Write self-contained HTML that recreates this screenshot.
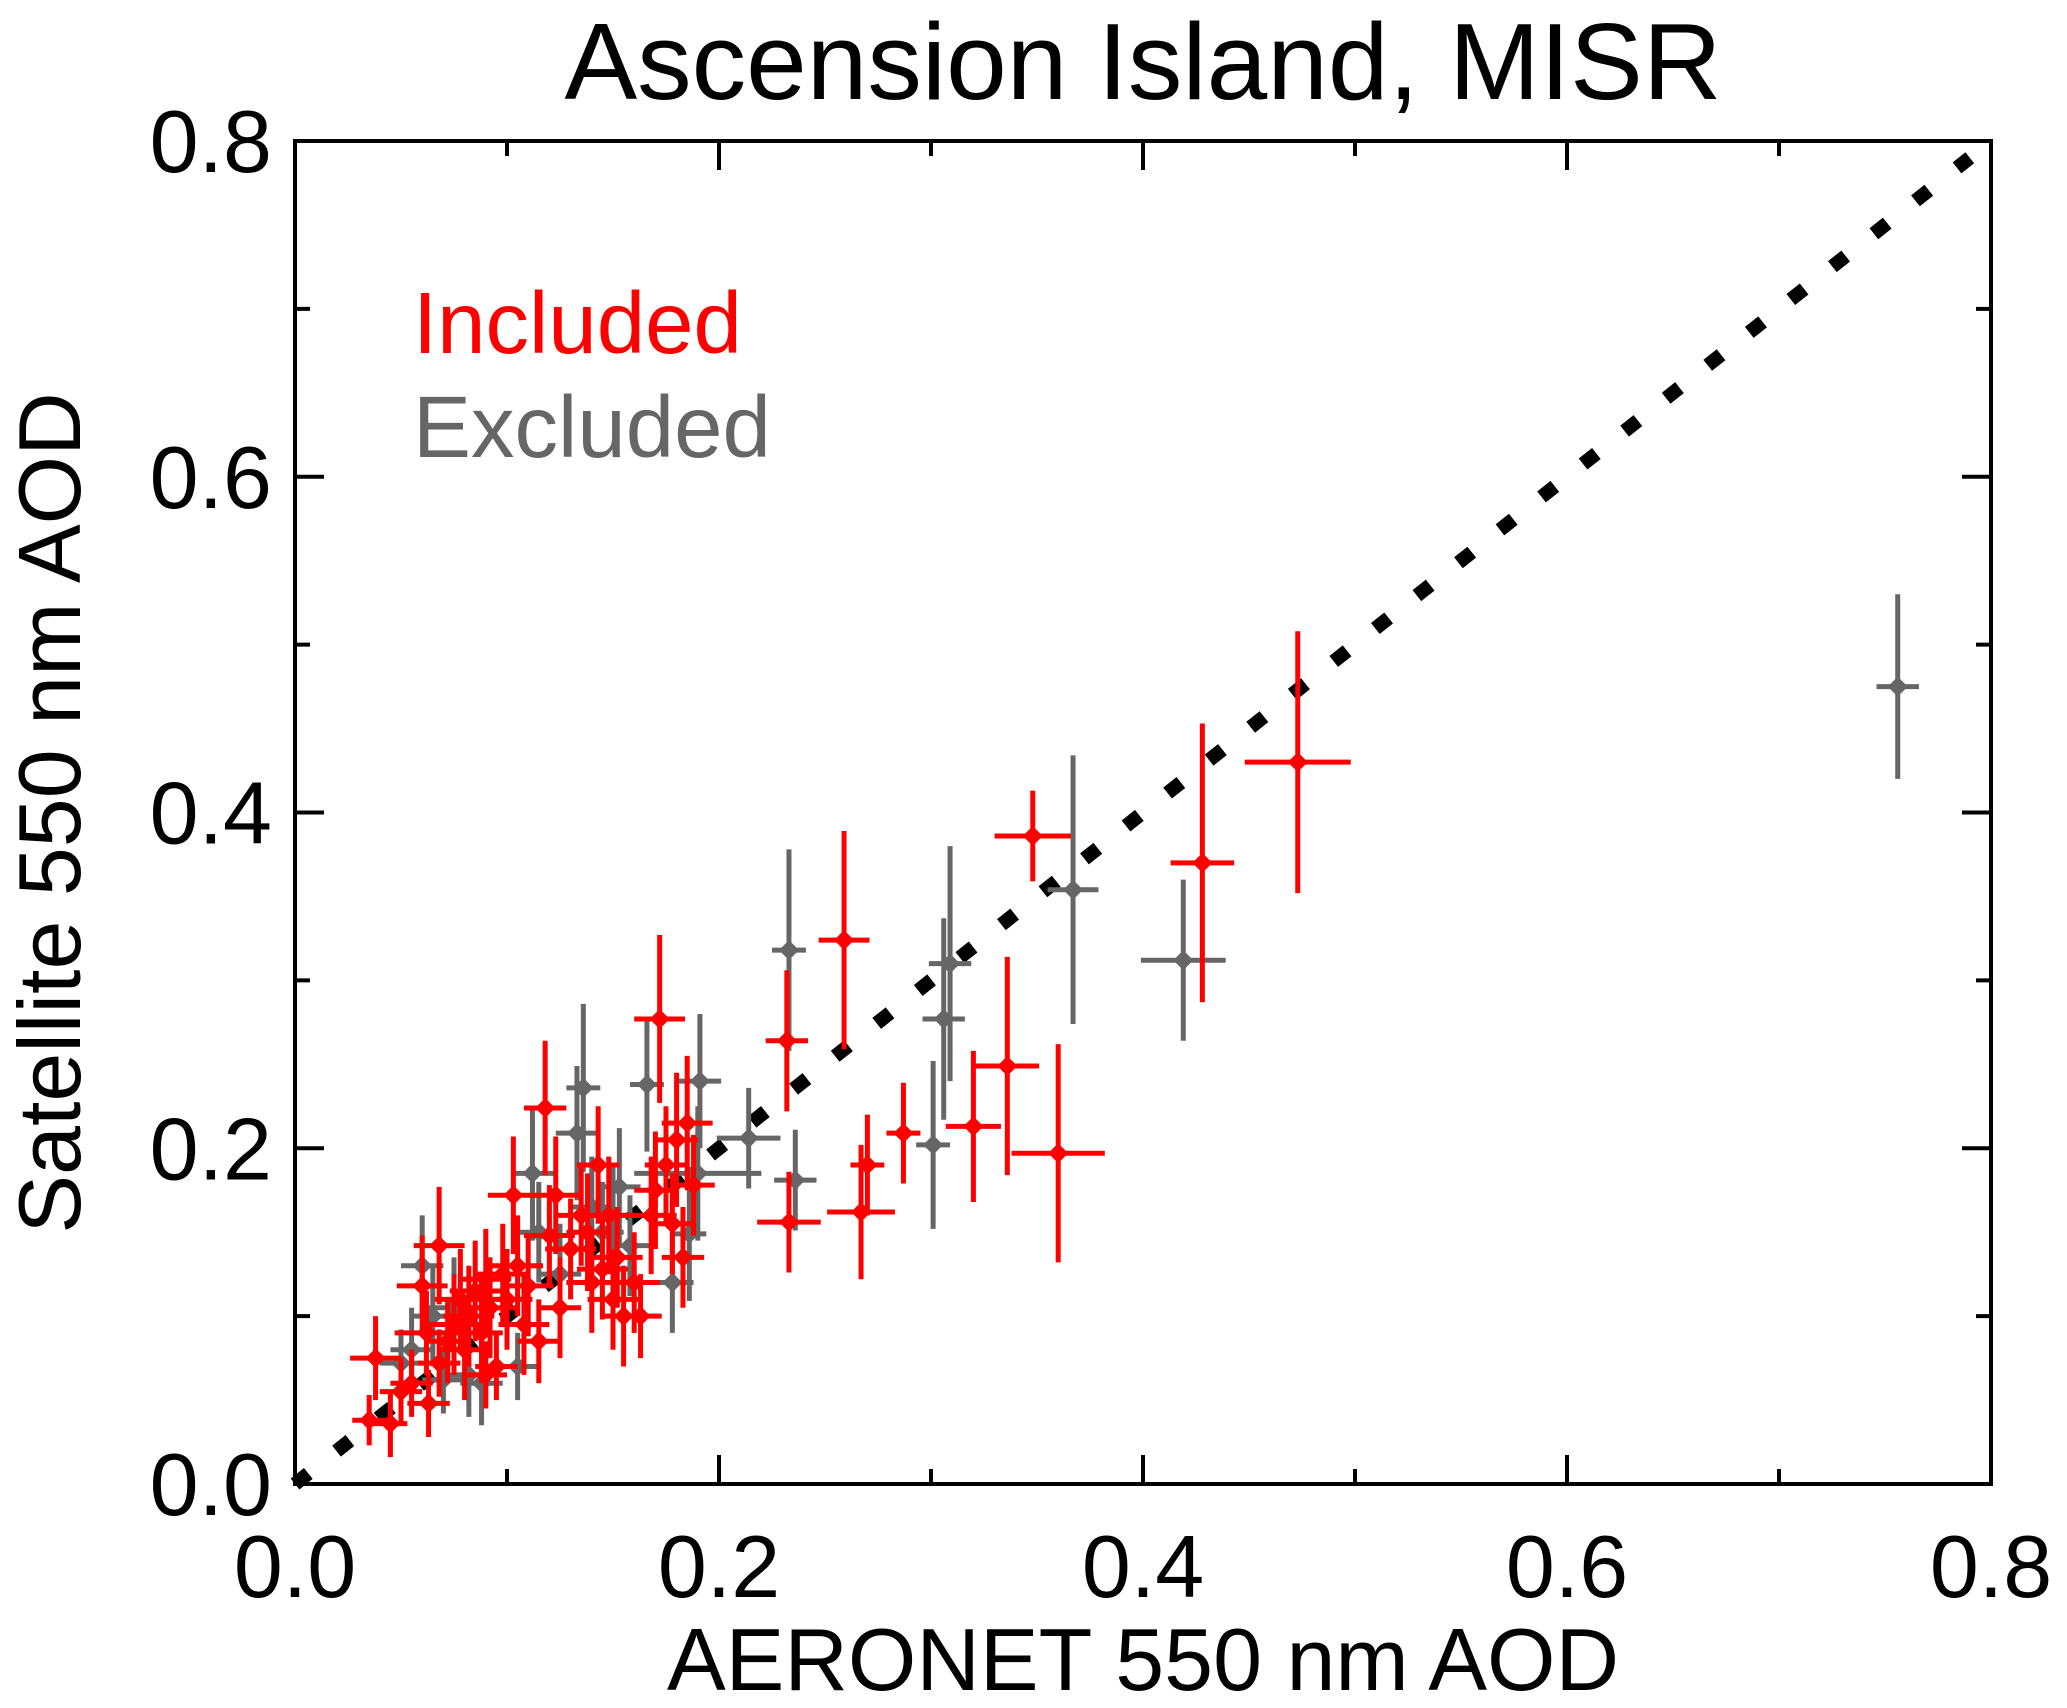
<!DOCTYPE html>
<html><head><meta charset="utf-8"><style>
html,body{margin:0;padding:0;background:#fff}
svg{display:block;font-family:"Liberation Sans",Arial,sans-serif}
</style></head><body>
<svg id="chart" width="2067" height="1708" viewBox="0 0 2067 1708">
<text x="1143" y="99" font-size="109" text-anchor="middle">Ascension Island, MISR</text>
<g id="axes"></g>
<g id="marks"></g>
<text x="413" y="353" font-size="87" fill="#ff0000">Included</text>
<text x="413" y="457" font-size="87" fill="#666666">Excluded</text>
<text x="1143" y="1690" font-size="88" text-anchor="middle">AERONET 550 nm AOD</text>
<text transform="translate(80,813) rotate(-90)" font-size="88" text-anchor="middle">Satellite 550 nm AOD</text>
</svg>
<script>
const xTicks=[0.0,0.2,0.4,0.6,0.8];
const xTickLabels=["0.0","0.2","0.4","0.6","0.8"];
const yTicks=[0.0,0.2,0.4,0.6,0.8];
const yTickLabels=["0.0","0.2","0.4","0.6","0.8"];
const minorTicks=[0.1,0.3,0.5,0.7];
const incX=[0.473,0.428,0.348,0.259,0.232,0.360,0.336,0.320,0.287,0.270,0.267,0.233,0.172,
0.035,0.045,0.038,0.050,0.055,0.063,0.062,0.068,0.060,0.068,0.072,0.075,0.078,0.080,0.082,0.085,0.088,0.090,0.092,0.095,0.098,0.100,0.103,0.105,0.108,0.110,0.115,0.118,0.120,0.123,0.125,0.130,0.135,0.138,0.140,0.143,0.145,0.148,0.150,0.152,0.155,0.160,0.163,0.168,0.170,0.175,0.178,0.180,0.185,0.188,0.183,0.090];
const incY=[0.430,0.370,0.386,0.324,0.264,0.197,0.249,0.213,0.209,0.190,0.162,0.156,0.277,
0.038,0.036,0.075,0.055,0.060,0.048,0.090,0.142,0.118,0.072,0.085,0.095,0.110,0.080,0.100,0.115,0.090,0.122,0.105,0.070,0.125,0.110,0.172,0.130,0.095,0.118,0.085,0.224,0.148,0.172,0.105,0.140,0.160,0.150,0.120,0.190,0.128,0.160,0.110,0.135,0.100,0.120,0.100,0.160,0.175,0.190,0.155,0.205,0.215,0.178,0.135,0.065];
const incXe=[0.025,0.015,0.018,0.012,0.010,0.022,0.015,0.013,0.008,0.008,0.016,0.015,0.012,
0.008,0.008,0.012,0.010,0.010,0.010,0.015,0.012,0.012,0.010,0.010,0.012,0.012,0.012,0.012,0.012,0.010,0.012,0.012,0.010,0.012,0.012,0.012,0.012,0.012,0.012,0.010,0.010,0.012,0.012,0.010,0.012,0.012,0.010,0.012,0.010,0.012,0.012,0.012,0.012,0.010,0.012,0.010,0.012,0.010,0.010,0.010,0.010,0.012,0.010,0.010,0.010];
const incYe=[0.078,0.083,0.027,0.065,0.042,0.065,0.065,0.045,0.030,0.030,0.040,0.030,0.050,
0.015,0.020,0.025,0.020,0.020,0.020,0.025,0.035,0.030,0.020,0.025,0.030,0.030,0.030,0.030,0.030,0.030,0.030,0.030,0.020,0.030,0.030,0.035,0.030,0.030,0.030,0.025,0.040,0.030,0.035,0.030,0.030,0.030,0.035,0.030,0.035,0.030,0.035,0.030,0.030,0.030,0.030,0.025,0.035,0.035,0.035,0.030,0.040,0.040,0.030,0.030,0.020];
const excX=[0.756,0.419,0.367,0.309,0.306,0.301,0.233,0.236,0.214,0.191,0.190,0.186,0.166,0.136,0.133,
0.050,0.055,0.060,0.065,0.070,0.075,0.082,0.088,0.105,0.112,0.115,0.125,0.140,0.145,0.150,0.153,0.158,0.178];
const excY=[0.475,0.312,0.354,0.310,0.277,0.202,0.318,0.181,0.206,0.240,0.185,0.149,0.238,0.236,0.209,
0.072,0.080,0.130,0.100,0.062,0.105,0.065,0.060,0.070,0.185,0.150,0.125,0.165,0.150,0.160,0.177,0.142,0.120];
const excXe=[0.010,0.020,0.012,0.010,0.010,0.008,0.008,0.010,0.015,0.010,0.030,0.008,0.008,0.008,0.010,
0.010,0.010,0.010,0.010,0.010,0.012,0.010,0.010,0.010,0.010,0.010,0.010,0.010,0.010,0.010,0.010,0.010,0.010];
const excYe=[0.055,0.048,0.080,0.070,0.060,0.050,0.060,0.030,0.030,0.040,0.040,0.040,0.040,0.050,0.040,
0.020,0.025,0.030,0.030,0.020,0.030,0.025,0.025,0.020,0.040,0.030,0.030,0.030,0.030,0.030,0.035,0.030,0.030];

const L=295,R=1991,T=141,B=1484;
const sx=v=>L+(v/0.8)*(R-L);
const sy=v=>B-(v/0.8)*(B-T);
const NS="http://www.w3.org/2000/svg";
const axes=document.getElementById('axes'),marks=document.getElementById('marks');
function mk(tag,attrs,parent){const e=document.createElementNS(NS,tag);for(const k in attrs)e.setAttribute(k,attrs[k]);parent.appendChild(e);return e;}

const frame=mk('rect',{x:L,y:T,width:R-L,height:B-T,fill:'none',stroke:'#000','stroke-width':4},axes);


xTicks.forEach((v,i)=>{
  const x=sx(v);
  const t1=mk('line',{x1:x,x2:x,y1:B,y2:B-29,stroke:'#000','stroke-width':4},axes);
  
  
  const t2=mk('line',{x1:x,x2:x,y1:T,y2:T+29,stroke:'#000','stroke-width':4},axes);
  
  
  const lb=mk('text',{x:x,y:1597,'font-size':88,'text-anchor':'middle'},axes);
  lb.textContent=xTickLabels[i];
  
  
});
yTicks.forEach((v,i)=>{
  const y=sy(v);
  const t1=mk('line',{x1:L,x2:L+29,y1:y,y2:y,stroke:'#000','stroke-width':4},axes);
  
  
  const t2=mk('line',{x1:R,x2:R-29,y1:y,y2:y,stroke:'#000','stroke-width':4},axes);
  
  
  const lb=mk('text',{x:272,y:y+31,'font-size':88,'text-anchor':'end'},axes);
  lb.textContent=yTickLabels[i];
  
  
});
minorTicks.forEach(v=>{
  const x=sx(v),y=sy(v);
  [[x,B,x,B-15],[x,T,x,T+15],[L,y,L+15,y],[R,y,R-15,y]].forEach(c=>{
    const m=mk('line',{x1:c[0],y1:c[1],x2:c[2],y2:c[3],stroke:'#000','stroke-width':4},axes);
    
    
  });
});
const oneToOne=mk('line',{x1:sx(0),y1:sy(0),x2:sx(0.79),y2:sy(0.79),stroke:'#000','stroke-width':14,'stroke-dasharray':'17 36'},marks);



function drawSeries(X,Y,XE,YE,color,name){
  const g=mk('g',{},marks);
  
  
  for(let i=0;i<X.length;i++){
    const cx=sx(X[i]),cy=sy(Y[i]);
    const p=mk('g',{},g);
    
    
    mk('line',{x1:sx(X[i]-XE[i]),x2:sx(X[i]+XE[i]),y1:cy,y2:cy,stroke:color,'stroke-width':5},p);
    mk('line',{x1:cx,x2:cx,y1:sy(Y[i]-YE[i]),y2:sy(Y[i]+YE[i]),stroke:color,'stroke-width':5},p);
    mk('polygon',{points:`${cx-10},${cy} ${cx},${cy-10} ${cx+10},${cy} ${cx},${cy+10}`,fill:color},p);
  }
}
drawSeries(excX,excY,excXe,excYe,'#666666','excluded');
drawSeries(incX,incY,incXe,incYe,'#ff0000','included');
</script>
</body></html>
